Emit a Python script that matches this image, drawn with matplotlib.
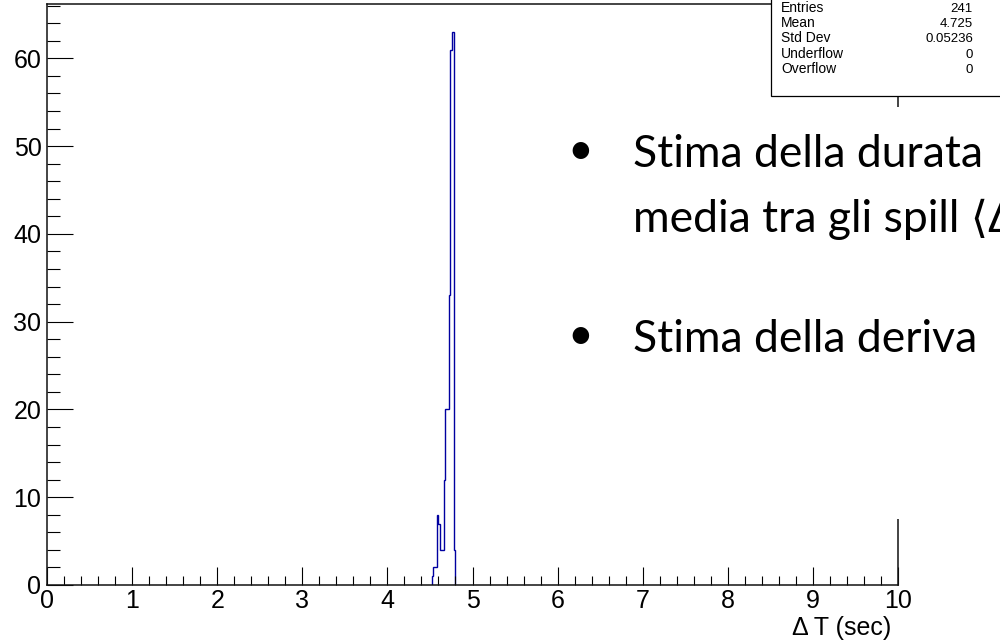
import matplotlib
matplotlib.use("Agg")
import matplotlib.pyplot as plt
from matplotlib.patches import Rectangle
from matplotlib.ticker import MultipleLocator

# Spill-to-spill time differences (0.02 s bins, only the populated range)
bin_edges = [4.52, 4.54, 4.56, 4.58, 4.60, 4.62, 4.64, 4.66,
             4.68, 4.70, 4.72, 4.74, 4.76, 4.78, 4.80]
bin_counts = [1, 2, 2, 8, 7, 4, 4, 12, 20, 20, 33, 61, 63, 4]

# Statistics box contents
stat_names = ["Entries", "Mean", "Std Dev", "Underflow", "Overflow"]
stat_values = ["241", "4.725", "0.05236", "0", "0"]

# Slide text lines
slide_lines = ["Stima della durata", "media tra gli spill \u27e8\u0394", "Stima della deriva"]

x_range = (0, 10)
y_top = 66.15
x_title = "\u0394 T (sec)"

W, H = 1000, 641
fig = plt.figure(figsize=(W / 100, H / 100), dpi=100)
fig.patch.set_facecolor("white")

ax_left, ax_right = 47 / W, 898 / W
ax_bottom, ax_top = 1 - 585 / H, 1 - 4.3 / H
ax = fig.add_axes([ax_left, ax_bottom, ax_right - ax_left, ax_top - ax_bottom])

ax.stairs(bin_counts, bin_edges, baseline=0, color="#0000a0", linewidth=1.0)

ax.set_xlim(*x_range)
ax.set_ylim(0, y_top)

for sp in ax.spines.values():
    sp.set_linewidth(1.1)
    sp.set_color("#111111")

ax.xaxis.set_major_locator(MultipleLocator(1))
ax.xaxis.set_minor_locator(MultipleLocator(0.2))
ax.yaxis.set_major_locator(MultipleLocator(10))
ax.yaxis.set_minor_locator(MultipleLocator(2))

label_family = "Liberation Sans"
label_size = 18
ax.tick_params(axis="x", which="major", direction="in", length=12.9, width=0.8, pad=3)
ax.tick_params(axis="x", which="minor", direction="in", length=6.5, width=0.8)
ax.tick_params(axis="y", which="major", direction="in", length=18.7, width=0.8, pad=4)
ax.tick_params(axis="y", which="minor", direction="in", length=9.4, width=0.8)
for lab in ax.get_xticklabels() + ax.get_yticklabels():
    lab.set_fontfamily(label_family)
    lab.set_fontsize(label_size)

ax.set_xlabel(x_title, fontfamily=label_family, fontsize=label_size, loc="right")
ax.xaxis.set_label_coords((891 - 47) / 851, -0.054)

# Statistics box in the top-right corner
fig.patches.append(Rectangle((771 / W, 1 - 95.7 / H), 0.4, 0.3,
                             transform=fig.transFigure, facecolor="white",
                             edgecolor="black", linewidth=0.9, zorder=5))
row_baselines = [11.7, 27.0, 42.2, 57.5, 72.7]
for name, val, yb in zip(stat_names, stat_values, row_baselines):
    fig.text(781 / W, 1 - yb / H, name, ha="left", va="baseline",
             family=label_family, fontsize=10, zorder=6)
    fig.text(973 / W, 1 - yb / H, val, ha="right", va="baseline",
             family=label_family, fontsize=9.5, zorder=6)

# Slide text box laid over the right part of the plot
fig.patches.append(Rectangle((0.55, 1 - 519 / H), 0.5, (519 - 107) / H,
                             transform=fig.transFigure, facecolor="white",
                             edgecolor="none", zorder=4))
slide_font = ["Lato", "DejaVu Sans"]
slide_size = 32
text_baselines = [167, 232, 352]
bullet_rows = [0, 2]
for i, (line, yb) in enumerate(zip(slide_lines, text_baselines)):
    fig.text(633 / W, 1 - yb / H, line, ha="left", va="baseline",
             family=slide_font, fontsize=slide_size, zorder=6)
    if i in bullet_rows:
        fig.text(567 / W, 1 - (yb - 3) / H, "\u2022", ha="left", va="baseline",
                 family=slide_font, fontsize=slide_size, zorder=6)

fig.savefig("out.png", dpi=100)
